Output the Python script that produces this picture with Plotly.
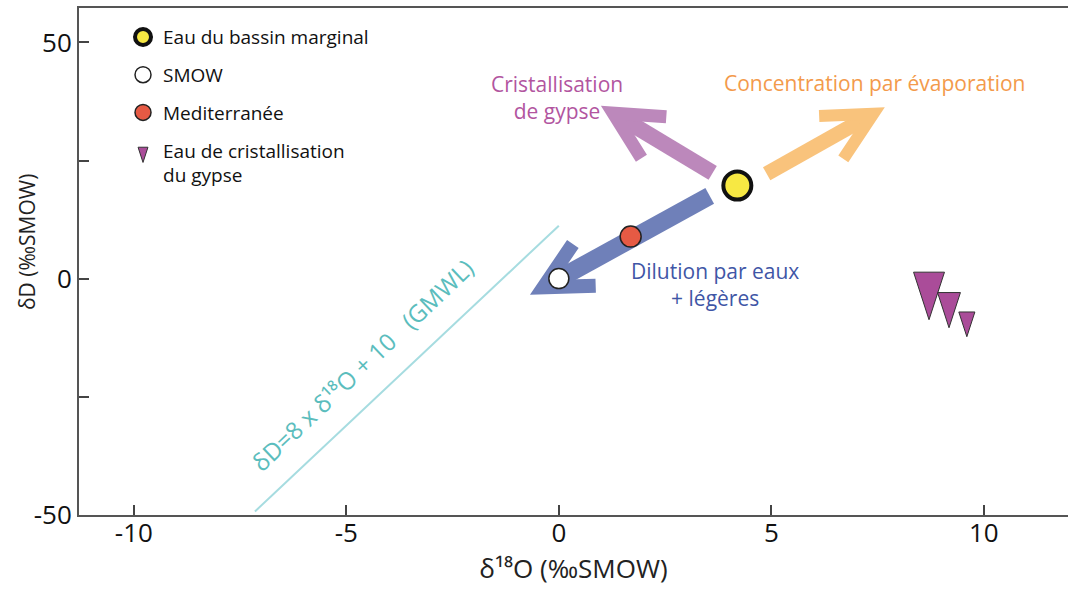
import math
import plotly.graph_objects as go

# ---------------- data ----------------
bassin_x = [4.2]
bassin_y = [19.7]
smow_x = [0.0]
smow_y = [0.0]
med_x = [1.69]
med_y = [8.9]
gypse_x = [8.71, 9.18, 9.6]
gypse_y = [-8.7, -10.4, -12.3]

gmwl_x = [-7.15, 0.0]
gmwl_y = [-49.3, 11.2]

arrow_labels = ["Concentration par évaporation", "Cristallisation<br>de gypse", "Dilution par eaux<br>+ légères"]
arrow_tail_x = [4.89, 3.62, 3.55]
arrow_tail_y = [22.2, 22.4, 17.5]
arrow_tip_x = [7.67, 0.99, -0.68]
arrow_tip_y = [36.3, 36.6, -3.4]

x_tickvals = [-10, -5, 0, 5, 10]
x_ticktext = ["-10", "-5", "0", "5", "10"]
y_tickvals = [-50, 0, 50]
y_ticktext = ["-50", "0", "50"]
y_minor_step = 25

# ---------------- layout geometry / styles ----------------
W, H = 1068, 592
ML, MR, MT, MB = 79, 0, 8, 77
XR = [-11.29, 11.98]
YR = [-50.05, 57.3]
FONT = "Open Sans"

kx = (W - ML - MR) / (XR[1] - XR[0])
ky = (H - MT - MB) / (YR[1] - YR[0])

arrow_colors = ["#F9C37C", "#BC88BB", "#6F80B9"]
arrow_widths = [15, 16, 18]
head_widths = [12, 13, 14]
label_colors = ["#F39A4B", "#B2559F", "#3F56A6"]
label_x = [7.44, -0.05, 3.67]
label_y = [41.4, 38.3, -1.3]

fig = go.Figure()


def to_px(x, y):
    return ((x - XR[0]) * kx, (y - YR[0]) * ky)


def to_data(p):
    return (p[0] / kx + XR[0], p[1] / ky + YR[0])


def rot(v, a):
    c, s = math.cos(a), math.sin(a)
    return (v[0] * c - v[1] * s, v[0] * s + v[1] * c)


def add(p, v, k=1.0):
    return (p[0] + k * v[0], p[1] + k * v[1])


def polygon_trace(pts, color):
    xs, ys = [], []
    for p in pts + [pts[0]]:
        dx, dy = to_data(p)
        xs.append(dx)
        ys.append(dy)
    return go.Scatter(x=xs, y=ys, mode="lines", fill="toself", fillcolor=color,
                      line=dict(width=0, color=color), showlegend=False, hoverinfo="skip")


# thick open-headed arrows (shaft + chevron head), built in pixel space from tail/tip values
HALF = math.radians(27)
OUTER = 66
for tx, ty, hx, hy, col, w, hw in zip(arrow_tail_x, arrow_tail_y, arrow_tip_x, arrow_tip_y,
                                      arrow_colors, arrow_widths, head_widths):
    t = to_px(tx, ty)
    T = to_px(hx, hy)
    L = math.hypot(T[0] - t[0], T[1] - t[1])
    d = ((T[0] - t[0]) / L, (T[1] - t[1]) / L)
    nrm = (-d[1], d[0])
    notch = add(T, d, -hw / math.sin(HALF))
    end = add(notch, d, 4)
    shaft = [add(t, nrm, w / 2), add(end, nrm, w / 2), add(end, nrm, -w / 2), add(t, nrm, -w / 2)]
    fig.add_trace(polygon_trace(shaft, col))

    def axdist(p):
        return abs((p[0] - T[0]) * d[1] - (p[1] - T[1]) * d[0])

    sides = []
    for sgn in (1, -1):
        u = rot(d, sgn * HALF)
        O = add(T, u, -OUTER)
        n = (-u[1], u[0])
        I1 = add(O, n, hw)
        I2 = add(O, n, -hw)
        sides.append((O, I1 if axdist(I1) < axdist(I2) else I2))
    head = [T, sides[0][0], sides[0][1], notch, sides[1][1], sides[1][0]]
    fig.add_trace(polygon_trace(head, col))

# GMWL
fig.add_trace(go.Scatter(x=gmwl_x, y=gmwl_y, mode="lines", showlegend=False, hoverinfo="skip",
                         line=dict(color="#A6DCE0", width=2)))

# points
fig.add_trace(go.Scatter(x=bassin_x, y=bassin_y, mode="markers", name="Eau du bassin marginal",
                         legendgroup="a",
                         marker=dict(size=28, color="#F7E843", opacity=1,
                                     line=dict(color="#111111", width=4))))
fig.add_trace(go.Scatter(x=smow_x, y=smow_y, mode="markers", name="SMOW", legendgroup="b",
                         marker=dict(size=20, color="#FFFFFF", opacity=1,
                                     line=dict(color="#222222", width=1.5))))
fig.add_trace(go.Scatter(x=med_x, y=med_y, mode="markers", name="Mediterranée", legendgroup="c",
                         marker=dict(size=21, color="#E65A44", opacity=1,
                                     line=dict(color="#222222", width=1.5))))
fig.add_trace(go.Scatter(x=gypse_x, y=gypse_y, mode="markers",
                         name="Eau de cristallisation<br>du gypse", legendgroup="d",
                         marker=dict(symbol="arrow", angle=180, size=[50, 37, 26], color="#AA4C99",
                                     opacity=1, line=dict(color="#333333", width=1))))

annotations = []
for txt, x, y, c in zip(arrow_labels, label_x, label_y, label_colors):
    annotations.append(dict(x=x, y=y, xref="x", yref="y", text=txt, showarrow=False,
                            font=dict(family=FONT, size=21, color=c), align="center"))
annotations.append(dict(x=-4.62, y=-18.2, xref="x", yref="y",
                        text="δD=8 x δ¹⁸O + 10\u00a0\u00a0\u00a0(GMWL)",
                        textangle=-43.5, showarrow=False,
                        font=dict(family=FONT, size=24, color="#5BBDBD")))
# y-axis title
annotations.append(dict(x=(27 - ML) / (W - ML - MR), y=1 - (242 - MT) / (H - MT - MB),
                        xref="paper", yref="paper", text="δD (‰SMOW)", textangle=-90,
                        showarrow=False, xanchor="center", yanchor="middle",
                        font=dict(family=FONT, size=21, color="#222222")))

fig.update_layout(
    width=W, height=H,
    margin=dict(l=ML, r=MR, t=MT, b=MB, autoexpand=False),
    paper_bgcolor="white", plot_bgcolor="white",
    font=dict(family=FONT, color="#111111"),
    annotations=annotations,
    legend=dict(x=0.0445, y=0.980, xanchor="left", yanchor="top",
                traceorder="grouped", tracegroupgap=10,
                font=dict(family=FONT, size=19, color="#111111"),
                bgcolor="rgba(0,0,0,0)"),
    xaxis=dict(range=XR, showgrid=False, zeroline=False, showline=True, mirror=True,
               automargin=False,
               linecolor="#555555", linewidth=2, ticks="inside", ticklen=10, tickwidth=1.5,
               tickcolor="#444444", tickmode="array", tickvals=x_tickvals, ticktext=x_ticktext,
               ticklabelstandoff=-6,
               tickfont=dict(family=FONT, size=26, color="#111111"),
               title=dict(text="δ¹⁸O (‰SMOW)",
                          font=dict(family=FONT, size=26, color="#222222"), standoff=6)),
    yaxis=dict(range=YR, showgrid=False, zeroline=False, showline=True, automargin=False,
               linecolor="#555555", linewidth=2, ticks="inside", ticklen=10, tickwidth=1.5,
               tickcolor="#444444", tickmode="array", tickvals=y_tickvals, ticktext=y_ticktext,
               minor=dict(ticks="inside", ticklen=10, tickwidth=1.5, tickcolor="#444444",
                          tickmode="linear", tick0=0, dtick=y_minor_step, showgrid=False),
               tickfont=dict(family=FONT, size=26, color="#111111")),
)

fig.write_html("out.html", config={"displayModeBar": False},
               post_script="document.body.style.margin='0';document.body.style.overflow='hidden';")
